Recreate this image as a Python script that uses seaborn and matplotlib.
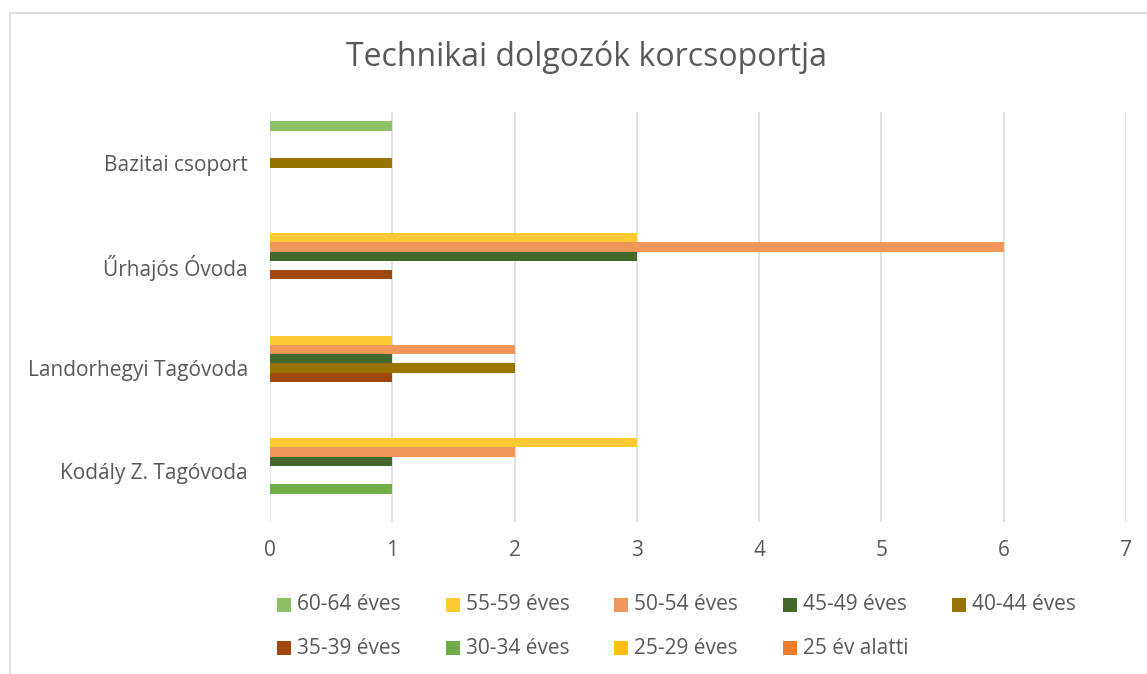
import matplotlib
matplotlib.use('Agg')
import matplotlib.pyplot as plt
from matplotlib.patches import Rectangle
from matplotlib.lines import Line2D
import pandas as pd
import seaborn as sns

# Adatok (a diagramról leolvasva)
intezmenyek = ['Bazitai csoport', 'Űrhajós Óvoda', 'Landorhegyi Tagóvoda', 'Kodály Z. Tagóvoda']
korcsoportok = ['60-64 éves', '55-59 éves', '50-54 éves', '45-49 éves', '40-44 éves',
                '35-39 éves', '30-34 éves', '25-29 éves', '25 év alatti']
bazitai = [1, 0, 0, 0, 1, 0, 0, 0, 0]
urhajos = [0, 3, 6, 3, 0, 1, 0, 0, 0]
landorhegyi = [0, 1, 2, 1, 2, 1, 0, 0, 0]
kodaly = [0, 3, 2, 1, 0, 0, 1, 0, 0]
szinek = ['#8CC168', '#FFCA33', '#F1975A', '#43682B', '#997300',
          '#9E480E', '#70AD47', '#FFC000', '#ED7D31']

TEXT = '#595959'
GRID = '#D9D9D9'

rows = []
for nev, ertekek in zip(intezmenyek, [bazitai, urhajos, landorhegyi, kodaly]):
    for kor, v in zip(korcsoportok, ertekek):
        rows.append({'Intézmény': nev, 'Korcsoport': kor, 'Fő': v})
df = pd.DataFrame(rows)

sns.set_theme(style='white')
plt.rcParams['font.family'] = ['Open Sans', 'DejaVu Sans']

fig = plt.figure(figsize=(11.47, 6.74), dpi=100)
ax = fig.add_axes([270 / 1147, 1 - 521.75 / 674, 856 / 1147, 410 / 674])

sns.barplot(data=df, y='Intézmény', x='Fő', hue='Korcsoport', order=intezmenyek,
            hue_order=korcsoportok, palette=szinek, orient='h', width=0.81,
            saturation=1, linewidth=0, legend=False, ax=ax)

ax.set_xlim(0, 7)
ax.set_xticks(range(0, 8))
ax.set_xlabel('')
ax.set_ylabel('')
for s in ax.spines.values():
    s.set_visible(False)
ax.set_axisbelow(True)
ax.grid(axis='x', color=GRID, linewidth=1.1)
ax.grid(axis='y', visible=False)
ax.tick_params(axis='y', length=0, pad=16, labelsize=15, labelcolor=TEXT)
ax.tick_params(axis='x', length=0, pad=13, labelsize=15, labelcolor=TEXT)

fig.text(586 / 1147, 1 - 57 / 674, 'Technikai dolgozók korcsoportja',
         ha='center', va='center', fontsize=23, color=TEXT)

# jelmagyarázat (Excel-szerű, soronként)
sq_w, sq_h = 14 / 1147, 14 / 674
for i, (kor, c) in enumerate(zip(korcsoportok, szinek)):
    r, col = divmod(i, 5)
    x = (277 + col * 168.7) / 1147
    y = 1 - (605 + r * 43) / 674
    fig.patches.append(Rectangle((x, y - sq_h / 2), sq_w, sq_h, transform=fig.transFigure,
                                 facecolor=c, edgecolor='none'))
    fig.text(x + 20 / 1147, y, kor, ha='left', va='center', fontsize=15, color=TEXT)

# keret
fig.lines.append(Line2D([9.5 / 1147, 1], [1 - 12.5 / 674] * 2, transform=fig.transFigure,
                        color=GRID, linewidth=1.2))
fig.lines.append(Line2D([9.5 / 1147] * 2, [0, 1 - 12.5 / 674], transform=fig.transFigure,
                        color=GRID, linewidth=1.2))

fig.savefig('out.png', dpi=100, facecolor='white')
